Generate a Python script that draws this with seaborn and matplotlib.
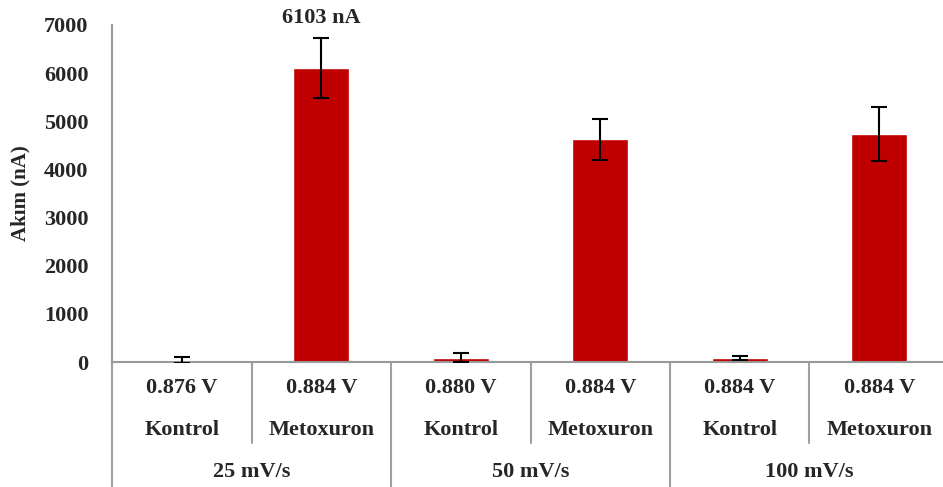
import matplotlib
matplotlib.use('Agg')

import matplotlib.pyplot as plt
import matplotlib.transforms as mtransforms
import seaborn as sns
import pandas as pd

sns.set_theme(style="white")
plt.rcParams['font.family'] = ['Liberation Serif', 'DejaVu Serif']
plt.rcParams['font.weight'] = 'bold'

# data
potentials = ["0.876 V", "0.884 V", "0.880 V", "0.884 V", "0.884 V", "0.884 V"]
samples = ["Kontrol", "Metoxuron", "Kontrol", "Metoxuron", "Kontrol", "Metoxuron"]
scan_rates = ["25 mV/s", "50 mV/s", "100 mV/s"]
current = [45, 6103, 85, 4630, 85, 4735]
current_err = [60, 625, 95, 425, 35, 555]
peak_label = "6103 nA"

df = pd.DataFrame({
    "cat": [f"{i}" for i in range(len(current))],
    "current": current,
})

fig = plt.figure(figsize=(9.43, 4.87), dpi=100)
W, H = 943, 487
ax = fig.add_axes([112 / W, (H - 362) / H, (949 - 112) / W, (362 - 25) / H])

sns.barplot(data=df, x="cat", y="current", color="#C00000", width=0.4,
            errorbar=None, saturation=1, ax=ax, zorder=2)
ax.errorbar(range(len(current)), current, yerr=current_err, fmt='none',
            ecolor='black', elinewidth=1.5, capsize=6, capthick=1.5, zorder=3)

ax.set_ylim(0, 7000)
ax.set_xlim(-0.5, 5.5)
ax.set_yticks(range(0, 7001, 1000))
ax.tick_params(axis='y', direction='out', length=8, width=1.2, color='#999999',
               labelsize=16, pad=9)
ax.tick_params(axis='x', length=0, labelbottom=False)
for lab in ax.get_yticklabels():
    lab.set_fontweight('bold')
ax.set_xlabel('')
ax.set_ylabel('Akım (nA)', fontsize=15, fontweight='bold')
ax.yaxis.set_label_coords(-0.097, 0.5)

sns.despine(ax=ax, top=True, right=True)
for side in ['left', 'bottom']:
    ax.spines[side].set_color('#999999')
    ax.spines[side].set_linewidth(1.5)

ax.text(1, 7150, peak_label, ha='center', va='center', fontsize=16,
        fontweight='bold', clip_on=False)

# category table below the axis
trans = mtransforms.blended_transform_factory(ax.transData, fig.transFigure)
for i in range(len(current)):
    ax.text(i, 1 - 388 / H, potentials[i], transform=trans, ha='center',
            va='center', fontsize=16, fontweight='bold')
    ax.text(i, 1 - 430 / H, samples[i], transform=trans, ha='center',
            va='center', fontsize=16, fontweight='bold')
for g, name in enumerate(scan_rates):
    ax.text(2 * g + 0.5, 1 - 472 / H, name, transform=trans, ha='center',
            va='center', fontsize=16, fontweight='bold')

for k in range(7):
    x = k - 0.5
    bottom = 0.0 if k % 2 == 0 else 1 - 443 / H
    ax.plot([x, x], [1 - 362 / H, bottom], transform=trans, color='#a0a0a0',
            lw=1.5, clip_on=False)

fig.savefig('out.png', dpi=100)
